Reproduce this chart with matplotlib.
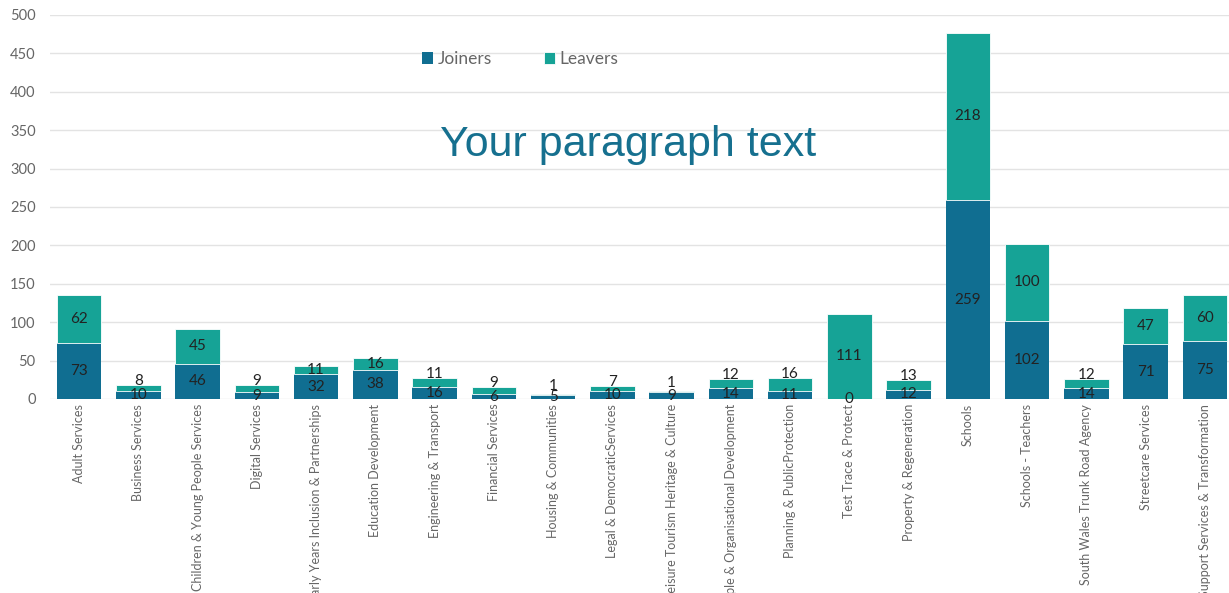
import matplotlib.pyplot as plt
import numpy as np

categories = ['Adult Services', 'Business Services', 'Children & Young People Services',
              'Digital Services', 'Early Years Inclusion & Partnerships', 'Education Development',
              'Engineering & Transport', 'Financial Services', 'Housing & Communities',
              'Legal & DemocraticServices', 'Leisure Tourism Heritage & Culture',
              'People & Organisational Development', 'Planning & PublicProtection',
              'Test Trace & Protect', 'Property & Regeneration', 'Schools', 'Schools - Teachers',
              'South Wales Trunk Road Agency', 'Streetcare Services',
              'Support Services & Transformation']
joiners = [73, 10, 46, 9, 32, 38, 16, 6, 5, 10, 9, 14, 11, 0, 12, 259, 102, 14, 71, 75]
leavers = [62, 8, 45, 9, 11, 16, 11, 9, 1, 7, 1, 12, 16, 111, 13, 218, 100, 12, 47, 60]

JOIN_COLOR = '#106e91'
LEAVE_COLOR = '#16a396'

fig = plt.figure(figsize=(12.29, 5.93), dpi=100)
ax = fig.add_axes([49.5 / 1229, 1 - 399 / 593, 1185 / 1229, 384 / 593])

x = np.arange(len(categories))
b1 = ax.bar(x, joiners, 0.75, color=JOIN_COLOR, label='Joiners', zorder=3)
b2 = ax.bar(x, leavers, 0.75, bottom=joiners, color=LEAVE_COLOR, label='Leavers',
            zorder=3, edgecolor='white', linewidth=0.6)

for i in x:
    j, l = joiners[i], leavers[i]
    ax.text(i, j / 2, str(j), ha='center', va='center',
            fontsize=11, color='#222222', family='Lato', zorder=4)
    # small stacks: labels nudged above the top like in the original
    if j + l < 30:
        off = 6 if l <= 2 else 3
        ax.annotate(str(l), (i, j + l), xytext=(0, off), textcoords='offset points',
                    ha='center', va='center', fontsize=11, color='#222222',
                    family='Lato', zorder=4)
    else:
        ax.text(i, j + l / 2, str(l), ha='center', va='center',
                fontsize=11, color='#222222', family='Lato', zorder=4)

ax.set_xlim(-0.5, len(categories) - 0.5)
ax.set_ylim(0, 500)
ax.set_yticks(range(0, 501, 50))
ax.yaxis.grid(True, color='#e3e3e3', linewidth=1, zorder=0)
for s in ax.spines.values():
    s.set_visible(False)
ax.tick_params(axis='both', length=0, colors='#666666')
ax.tick_params(axis='y', labelsize=10.5, pad=10)
ax.set_yticklabels([str(v) for v in range(0, 501, 50)], family='Lato')
ax.set_xticks(x)
ax.set_xticklabels(categories, rotation=90, fontsize=9, family='Lato', color='#666666')

fig.legend(handles=[b1, b2], loc='center', bbox_to_anchor=(520 / 1229, 1 - 59 / 593),
           ncol=2, frameon=False, handlelength=0.65, handleheight=0.65,
           columnspacing=3.0, handletextpad=0.25, labelcolor='#666666',
           prop={'family': 'Lato', 'size': 12.5})

fig.text(628 / 1229, 1 - 145 / 593, 'Your paragraph text', ha='center', va='center',
         fontsize=31, color='#16708f', family='Liberation Sans')

fig.savefig('out.png', dpi=100)
